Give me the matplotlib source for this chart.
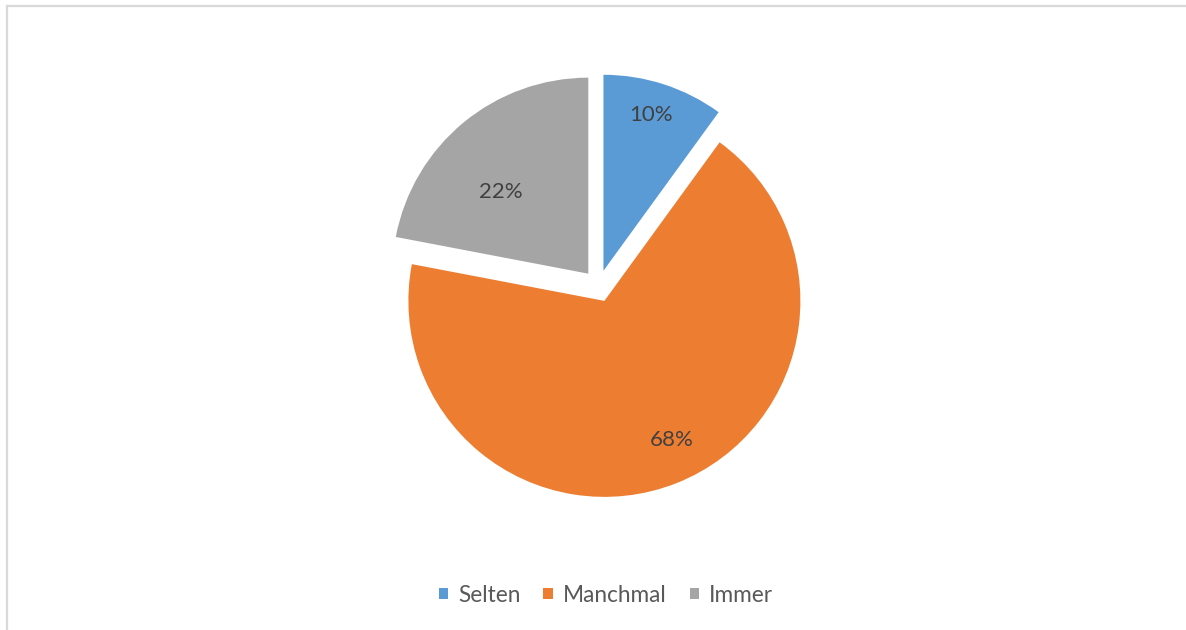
import numpy as np
import matplotlib.pyplot as plt
from matplotlib.lines import Line2D

categories = ["Selten", "Manchmal", "Immer"]
shares = [10, 68, 22]
colors = ["#5B9BD5", "#ED7D31", "#A5A5A5"]

plt.rcParams['font.family'] = ['Lato', 'DejaVu Sans']

fig = plt.figure(figsize=(11.86, 6.30), dpi=100)
ax = fig.add_axes([0, 0, 1, 1])

# pie in pixel-like coordinates, origin bottom-left
cx, cy, r = 598.5, 630 - 286, 196
wedges, _ = ax.pie(shares, colors=colors, startangle=90, counterclock=False,
                   center=(cx, cy), radius=r, explode=[16, 16, 16],
                   wedgeprops=dict(linewidth=0), frame=True)
ax.set_xlim(0, 1186)
ax.set_ylim(0, 630)
ax.set_aspect('equal')
ax.axis('off')

# data labels, placed roughly like Excel's best fit
lab_dist = [0.83, 0.79, 0.61]
lab_rot = [1.0, 4.2, 7.3]
for w, v, d, dt in zip(wedges, shares, lab_dist, lab_rot):
    th = np.deg2rad((w.theta1 + w.theta2) / 2 + dt)
    x0, y0 = w.center
    ax.text(x0 + d * r * np.cos(th), y0 + d * r * np.sin(th), f"{v}%",
            ha='center', va='center', fontsize=16, color='#404040')

leg = fig.legend(wedges, categories, loc='center', bbox_to_anchor=(0.511, 1 - 595 / 630),
                 ncol=3, frameon=False, fontsize=16.3, handlelength=0.42, handleheight=0.42,
                 handletextpad=0.45, columnspacing=1.0)
for t in leg.get_texts():
    t.set_color('#595959')

# chart-area border (top and left visible in the crop)
fig.add_artist(Line2D([7 / 1186, 7 / 1186], [0, 1 - 6 / 630], transform=fig.transFigure,
                      color='#D9D9D9', linewidth=1.6))
fig.add_artist(Line2D([7 / 1186, 1], [1 - 6 / 630, 1 - 6 / 630], transform=fig.transFigure,
                      color='#D9D9D9', linewidth=1.6))

fig.savefig('out.png', dpi=100, facecolor='white')
